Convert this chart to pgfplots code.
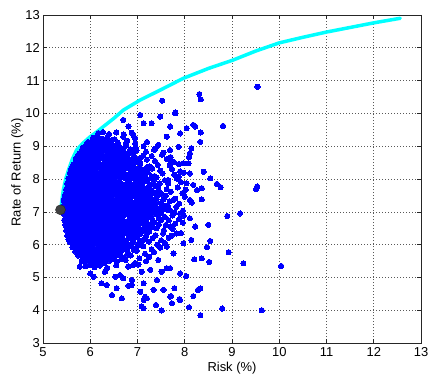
\documentclass[border=0pt]{standalone}
\usepackage{fontspec}
\setmainfont{Liberation Sans}
\usepackage{pgfplots}
\pgfplotsset{compat=1.18}
\definecolor{mblue}{rgb}{0,0,1}
\definecolor{mcyan}{rgb}{0,1,1}
\definecolor{mdark}{rgb}{0.25,0.25,0.25}
\begin{document}
\begin{tikzpicture}
\begin{axis}[
  name=ax,
  width=378bp, height=328bp, scale only axis,
  xmin=5, xmax=13, ymin=3, ymax=13,
  xtick={5,6,...,13}, ytick={3,4,...,13},
  grid=major,
  major grid style={dash pattern=on 1bp off 2bp, black!65, line width=0.6bp},
  axis line style={black!85, line width=0.7bp},
  tick style={black!85, line width=0.6bp},
  tick align=inside,
  major tick length=4bp,
  /pgf/number format/assume math mode=true,
  ticklabel style={font=\fontsize{13}{13}\selectfont},
  xticklabel style={anchor=north, inner sep=0pt, yshift=-4bp},
  yticklabel style={anchor=east, inner sep=0pt, xshift=-3bp},
  xlabel={Risk (\%)}, ylabel={Rate of Return (\%)},
  label style={font=\fontsize{13}{13}\selectfont, inner sep=0pt},
  xlabel style={at={(axis description cs:0.5,-0.058)}, anchor=north},
  ylabel style={at={(axis description cs:-0.068,0.52)}, anchor=center},
]
% random portfolios
\addplot[only marks, mark=*, mark size=2.6bp, color=mblue, mark options={draw=mblue, fill=mblue, line width=0pt}] coordinates {
(6.17,9.40) (6.27,9.43) (6.40,9.37) (6.55,9.42) (6.71,9.36) (6.88,9.41)
(6.06,9.26) (6.16,9.30) (6.25,9.23) (6.36,9.28) (6.52,9.21) (6.70,9.29) (6.95,9.25)
(5.96,9.13) (6.06,9.16) (6.15,9.09) (6.26,9.14) (6.36,9.07) (6.44,9.15) (6.58,9.11) (6.78,9.17) (6.95,9.08) (7.20,9.13)
(5.84,8.95) (5.94,9.00) (6.03,8.93) (6.14,9.01) (6.24,8.97) (6.32,9.03) (6.43,8.94) (6.53,8.99) (6.62,8.98) (6.76,9.02) (6.96,8.95) (7.13,9.00) (7.38,8.93)
(5.77,8.79) (5.87,8.87) (5.96,8.83) (6.07,8.89) (6.17,8.80) (6.25,8.85) (6.36,8.84) (6.46,8.88) (6.55,8.81) (6.65,8.86) (6.80,8.79) (6.98,8.87) (7.18,8.83) (7.35,8.89) (7.55,8.80)
(5.73,8.69) (5.83,8.75) (5.92,8.66) (6.03,8.71) (6.13,8.70) (6.21,8.74) (6.32,8.67) (6.42,8.72) (6.51,8.65) (6.61,8.73) (6.70,8.69) (6.79,8.75) (6.94,8.66) (7.12,8.71) (7.30,8.70) (7.52,8.74) (7.70,8.67)
(5.69,8.60) (5.79,8.53) (5.88,8.58) (5.99,8.51) (6.09,8.59) (6.17,8.55) (6.28,8.61) (6.38,8.52) (6.47,8.57) (6.57,8.56) (6.66,8.60) (6.77,8.53) (6.86,8.58) (7.00,8.51) (7.20,8.59) (7.37,8.55) (7.62,8.61) (7.77,8.52)
(5.64,8.44) (5.74,8.37) (5.83,8.45) (5.94,8.41) (6.04,8.47) (6.12,8.38) (6.23,8.43) (6.33,8.42) (6.42,8.46) (6.52,8.39) (6.61,8.44) (6.72,8.37) (6.82,8.45) (6.91,8.41) (7.06,8.47) (7.26,8.38) (7.43,8.43) (7.68,8.42) (7.88,8.46)
(5.60,8.31) (5.70,8.27) (5.79,8.33) (5.90,8.24) (6.00,8.29) (6.08,8.28) (6.19,8.32) (6.29,8.25) (6.38,8.30) (6.48,8.23) (6.57,8.31) (6.68,8.27) (6.78,8.33) (6.87,8.24) (6.97,8.29) (7.11,8.28) (7.31,8.32) (7.48,8.25) (7.73,8.30) (7.90,8.23)
(5.57,8.19) (5.67,8.10) (5.76,8.15) (5.87,8.14) (5.97,8.18) (6.05,8.11) (6.16,8.16) (6.26,8.09) (6.35,8.17) (6.45,8.13) (6.54,8.19) (6.65,8.10) (6.75,8.15) (6.84,8.14) (6.94,8.18) (7.02,8.11) (7.16,8.16) (7.36,8.09) (7.53,8.17) (7.78,8.13) (7.98,8.19)
(5.54,8.01) (5.64,8.00) (5.73,8.04) (5.84,7.97) (5.94,8.02) (6.02,7.95) (6.13,8.03) (6.23,7.99) (6.32,8.05) (6.42,7.96) (6.51,8.01) (6.62,8.00) (6.72,8.04) (6.81,7.97) (6.91,8.02) (6.99,7.95) (7.09,8.03) (7.22,7.99) (7.40,8.05) (7.58,7.96) (7.83,8.01)
(5.51,7.86) (5.61,7.90) (5.70,7.83) (5.81,7.88) (5.91,7.81) (5.99,7.89) (6.10,7.85) (6.20,7.91) (6.29,7.82) (6.39,7.87) (6.48,7.86) (6.59,7.90) (6.69,7.83) (6.78,7.88) (6.88,7.81) (6.96,7.89) (7.06,7.85) (7.12,7.91) (7.28,7.82) (7.47,7.87) (7.65,7.86) (7.92,7.90)
(5.49,7.69) (5.59,7.74) (5.68,7.67) (5.79,7.75) (5.89,7.71) (5.97,7.77) (6.08,7.68) (6.18,7.73) (6.27,7.72) (6.37,7.76) (6.46,7.69) (6.57,7.74) (6.67,7.67) (6.76,7.75) (6.86,7.71) (6.94,7.77) (7.04,7.68) (7.13,7.73) (7.26,7.72) (7.44,7.76) (7.62,7.69) (7.85,7.74) (8.02,7.67)
(5.47,7.53) (5.57,7.61) (5.66,7.57) (5.77,7.63) (5.87,7.54) (5.95,7.59) (6.06,7.58) (6.16,7.62) (6.25,7.55) (6.35,7.60) (6.44,7.53) (6.55,7.61) (6.65,7.57) (6.74,7.63) (6.84,7.54) (6.92,7.59) (7.02,7.58) (7.11,7.62) (7.20,7.55) (7.34,7.60) (7.52,7.53) (7.70,7.61) (7.95,7.57)
(5.46,7.43) (5.56,7.49) (5.65,7.40) (5.76,7.45) (5.86,7.44) (5.94,7.48) (6.05,7.41) (6.15,7.46) (6.24,7.39) (6.34,7.47) (6.43,7.43) (6.54,7.49) (6.64,7.40) (6.73,7.45) (6.83,7.44) (6.91,7.48) (7.01,7.41) (7.10,7.46) (7.19,7.39) (7.27,7.47) (7.40,7.43) (7.60,7.49) (7.80,7.40)
(5.44,7.34) (5.54,7.27) (5.63,7.32) (5.74,7.25) (5.84,7.33) (5.92,7.29) (6.03,7.35) (6.13,7.26) (6.22,7.31) (6.32,7.30) (6.41,7.34) (6.52,7.27) (6.62,7.32) (6.71,7.25) (6.81,7.33) (6.89,7.29) (6.99,7.35) (7.08,7.26) (7.17,7.31) (7.27,7.30) (7.34,7.34) (7.50,7.27) (7.68,7.32) (7.88,7.25)
(5.43,7.18) (5.53,7.11) (5.62,7.19) (5.73,7.15) (5.83,7.21) (5.91,7.12) (6.02,7.17) (6.12,7.16) (6.21,7.20) (6.31,7.13) (6.40,7.18) (6.51,7.11) (6.61,7.19) (6.70,7.15) (6.80,7.21) (6.88,7.12) (6.98,7.17) (7.07,7.16) (7.16,7.20) (7.26,7.13) (7.33,7.18) (7.46,7.11) (7.64,7.19) (7.82,7.15)
(5.42,7.05) (5.52,7.01) (5.61,7.07) (5.72,6.98) (5.82,7.03) (5.90,7.02) (6.01,7.06) (6.11,6.99) (6.20,7.04) (6.30,6.97) (6.39,7.05) (6.50,7.01) (6.60,7.07) (6.69,6.98) (6.79,7.03) (6.87,7.02) (6.97,7.06) (7.06,6.99) (7.15,7.04) (7.25,6.97) (7.32,7.05) (7.44,7.01) (7.62,7.07) (7.78,6.98) (7.96,7.03)
(5.44,6.93) (5.54,6.84) (5.63,6.89) (5.74,6.88) (5.84,6.92) (5.92,6.85) (6.03,6.90) (6.13,6.83) (6.22,6.91) (6.32,6.87) (6.41,6.93) (6.52,6.84) (6.62,6.89) (6.71,6.88) (6.81,6.92) (6.89,6.85) (6.99,6.90) (7.08,6.83) (7.17,6.91) (7.26,6.87) (7.40,6.93) (7.58,6.84) (7.74,6.89) (7.98,6.88)
(5.45,6.75) (5.55,6.74) (5.64,6.78) (5.75,6.71) (5.85,6.76) (5.93,6.69) (6.04,6.77) (6.14,6.73) (6.23,6.79) (6.33,6.70) (6.42,6.75) (6.53,6.74) (6.63,6.78) (6.72,6.71) (6.82,6.76) (6.90,6.69) (7.00,6.77) (7.09,6.73) (7.18,6.79) (7.32,6.70) (7.50,6.75) (7.66,6.74) (7.88,6.78)
(5.47,6.60) (5.57,6.64) (5.66,6.57) (5.77,6.62) (5.87,6.55) (5.95,6.63) (6.06,6.59) (6.16,6.65) (6.25,6.56) (6.35,6.61) (6.44,6.60) (6.55,6.64) (6.65,6.57) (6.74,6.62) (6.84,6.55) (6.92,6.63) (7.02,6.59) (7.11,6.65) (7.26,6.56) (7.45,6.61) (7.60,6.60) (7.80,6.64)
(5.49,6.43) (5.59,6.48) (5.68,6.41) (5.79,6.49) (5.89,6.45) (5.97,6.51) (6.08,6.42) (6.18,6.47) (6.27,6.46) (6.37,6.50) (6.46,6.43) (6.57,6.48) (6.67,6.41) (6.76,6.49) (6.86,6.45) (6.94,6.51) (7.04,6.42) (7.10,6.47) (7.24,6.46) (7.40,6.50) (7.56,6.43) (7.74,6.48)
(5.51,6.27) (5.61,6.35) (5.70,6.31) (5.81,6.37) (5.91,6.28) (5.99,6.33) (6.10,6.32) (6.20,6.36) (6.29,6.29) (6.39,6.34) (6.48,6.27) (6.59,6.35) (6.69,6.31) (6.78,6.37) (6.88,6.28) (6.96,6.33) (7.05,6.32) (7.19,6.36) (7.38,6.29) (7.54,6.34) (7.72,6.27) (7.92,6.35)
(5.54,6.17) (5.64,6.23) (5.73,6.14) (5.84,6.19) (5.94,6.18) (6.02,6.22) (6.13,6.15) (6.23,6.20) (6.32,6.13) (6.42,6.21) (6.51,6.17) (6.62,6.23) (6.72,6.14) (6.81,6.19) (6.91,6.18) (6.99,6.22) (7.14,6.15) (7.32,6.20) (7.50,6.13) (7.66,6.21)
(5.57,6.08) (5.67,6.01) (5.76,6.06) (5.87,5.99) (5.97,6.07) (6.05,6.03) (6.16,6.09) (6.26,6.00) (6.35,6.05) (6.45,6.04) (6.54,6.08) (6.65,6.01) (6.75,6.06) (6.84,5.99) (6.92,6.07) (7.06,6.03) (7.24,6.09) (7.42,6.00) (7.58,6.05)
(5.62,5.92) (5.72,5.85) (5.81,5.93) (5.92,5.89) (6.02,5.95) (6.10,5.86) (6.21,5.91) (6.31,5.90) (6.40,5.94) (6.50,5.87) (6.59,5.92) (6.70,5.85) (6.80,5.93) (6.95,5.89) (7.12,5.95) (7.30,5.86) (7.48,5.91)
(5.68,5.79) (5.78,5.75) (5.87,5.81) (5.98,5.72) (6.08,5.77) (6.16,5.76) (6.27,5.80) (6.37,5.73) (6.46,5.78) (6.56,5.71) (6.65,5.79) (6.80,5.75) (6.98,5.81) (7.16,5.72) (7.35,5.77)
(5.74,5.67) (5.84,5.58) (5.93,5.63) (6.04,5.62) (6.14,5.66) (6.22,5.59) (6.33,5.64) (6.43,5.57) (6.52,5.65) (6.68,5.61) (6.86,5.67) (7.04,5.58) (7.25,5.63)
(5.82,5.49) (5.92,5.48) (6.01,5.52) (6.12,5.45) (6.22,5.50) (6.30,5.43) (6.41,5.51) (6.56,5.47) (6.75,5.53) (6.95,5.44) (7.18,5.49)
(5.90,5.34) (6.00,5.38) (6.09,5.31) (6.20,5.36) (6.36,5.29) (6.55,5.37) (6.80,5.33) (7.02,5.39)
(6.05,9.19) (6.15,9.21) (6.24,9.17) (6.34,9.20) (6.44,9.18)
(5.92,9.05) (6.02,9.07) (6.11,9.03) (6.21,9.06) (6.31,9.04) (6.40,9.08) (6.50,9.02) (6.59,9.07)
(5.83,8.91) (5.93,8.93) (6.02,8.89) (6.12,8.92) (6.22,8.90) (6.31,8.94) (6.41,8.88) (6.50,8.93) (6.60,8.90) (6.70,8.91)
(5.78,8.77) (5.88,8.79) (5.97,8.75) (6.07,8.78) (6.17,8.76) (6.26,8.80) (6.36,8.74) (6.45,8.79) (6.55,8.76) (6.65,8.77) (6.74,8.79)
(5.73,8.63) (5.83,8.65) (5.92,8.61) (6.02,8.64) (6.12,8.62) (6.21,8.66) (6.31,8.60) (6.40,8.65) (6.50,8.62) (6.60,8.63) (6.69,8.65) (6.79,8.61)
(5.69,8.49) (5.79,8.51) (5.88,8.47) (5.98,8.50) (6.08,8.48) (6.17,8.52) (6.27,8.46) (6.36,8.51) (6.46,8.48) (6.56,8.49) (6.65,8.51) (6.84,8.50)
(5.65,8.35) (5.75,8.37) (5.84,8.33) (5.94,8.36) (6.04,8.34) (6.13,8.38) (6.23,8.32) (6.32,8.37) (6.42,8.34) (6.52,8.35) (6.61,8.37) (6.71,8.33) (6.80,8.36) (6.90,8.34)
(5.62,8.21) (5.72,8.23) (5.81,8.19) (5.91,8.22) (6.01,8.20) (6.10,8.24) (6.20,8.18) (6.29,8.23) (6.39,8.20) (6.49,8.21) (6.58,8.23) (6.68,8.19) (6.87,8.20) (6.97,8.24)
(5.59,8.07) (5.69,8.09) (5.78,8.05) (5.88,8.08) (5.98,8.06) (6.07,8.10) (6.17,8.04) (6.26,8.09) (6.36,8.06) (6.46,8.07) (6.55,8.09) (6.65,8.05) (6.74,8.08) (6.84,8.06) (6.94,8.10)
(5.56,7.93) (5.66,7.95) (5.75,7.91) (5.85,7.94) (5.95,7.92) (6.04,7.96) (6.14,7.90) (6.23,7.95) (6.33,7.92) (6.43,7.93) (6.52,7.95) (6.62,7.91) (6.81,7.92) (7.00,7.90)
(5.54,7.79) (5.64,7.81) (5.73,7.77) (5.83,7.80) (5.93,7.78) (6.02,7.82) (6.12,7.76) (6.21,7.81) (6.31,7.78) (6.41,7.79) (6.50,7.81) (6.60,7.77) (6.69,7.80) (6.79,7.78) (6.89,7.82) (6.98,7.76) (7.08,7.81)
(5.52,7.65) (5.62,7.67) (5.71,7.63) (5.81,7.66) (5.91,7.64) (6.00,7.68) (6.10,7.62) (6.19,7.67) (6.29,7.64) (6.39,7.65) (6.48,7.67) (6.58,7.63) (6.67,7.66) (6.77,7.64) (6.96,7.62) (7.06,7.67) (7.15,7.64)
(5.51,7.51) (5.61,7.53) (5.70,7.49) (5.80,7.52) (5.90,7.50) (5.99,7.54) (6.09,7.48) (6.18,7.53) (6.28,7.50) (6.38,7.51) (6.47,7.53) (6.57,7.49) (6.66,7.52) (6.76,7.50) (6.86,7.54) (6.95,7.48) (7.05,7.53) (7.14,7.50)
(5.49,7.37) (5.59,7.39) (5.68,7.35) (5.78,7.38) (5.88,7.36) (5.97,7.40) (6.07,7.34) (6.16,7.39) (6.26,7.36) (6.36,7.37) (6.45,7.39) (6.55,7.35) (6.64,7.38) (6.74,7.36) (6.84,7.40) (7.03,7.39) (7.12,7.36) (7.22,7.37)
(5.48,7.23) (5.58,7.25) (5.67,7.21) (5.77,7.24) (5.87,7.22) (5.96,7.26) (6.06,7.20) (6.15,7.25) (6.25,7.22) (6.35,7.23) (6.44,7.25) (6.54,7.21) (6.63,7.24) (6.73,7.22) (6.83,7.26) (6.92,7.20) (7.02,7.25) (7.11,7.22) (7.21,7.23)
(5.47,7.09) (5.57,7.11) (5.66,7.07) (5.76,7.10) (5.86,7.08) (5.95,7.12) (6.05,7.06) (6.14,7.11) (6.24,7.08) (6.34,7.09) (6.43,7.11) (6.53,7.07) (6.62,7.10) (6.72,7.08) (6.91,7.06) (7.01,7.11) (7.20,7.09)
(5.48,6.95) (5.58,6.97) (5.67,6.93) (5.77,6.96) (5.87,6.94) (5.96,6.98) (6.06,6.92) (6.15,6.97) (6.25,6.94) (6.35,6.95) (6.44,6.97) (6.54,6.93) (6.63,6.96) (6.73,6.94) (6.83,6.98) (6.92,6.92) (7.02,6.97) (7.11,6.94) (7.21,6.95)
(5.49,6.81) (5.59,6.83) (5.68,6.79) (5.78,6.82) (5.88,6.80) (5.97,6.84) (6.07,6.78) (6.16,6.83) (6.26,6.80) (6.36,6.81) (6.45,6.83) (6.55,6.79) (6.64,6.82) (6.84,6.84) (6.93,6.78) (7.03,6.83) (7.12,6.80)
(5.51,6.67) (5.61,6.69) (5.70,6.65) (5.80,6.68) (5.90,6.66) (5.99,6.70) (6.09,6.64) (6.18,6.69) (6.28,6.66) (6.38,6.67) (6.47,6.69) (6.57,6.65) (6.66,6.68) (6.76,6.66) (6.86,6.70) (6.95,6.64) (7.05,6.69)
(5.53,6.53) (5.63,6.55) (5.72,6.51) (5.82,6.54) (5.92,6.52) (6.01,6.56) (6.11,6.50) (6.20,6.55) (6.30,6.52) (6.40,6.53) (6.49,6.55) (6.59,6.51) (6.68,6.54) (6.88,6.56) (6.97,6.50)
(5.55,6.39) (5.65,6.41) (5.74,6.37) (5.84,6.40) (5.94,6.38) (6.03,6.42) (6.13,6.36) (6.22,6.41) (6.32,6.38) (6.42,6.39) (6.51,6.41) (6.61,6.37) (6.70,6.40) (6.80,6.38) (6.90,6.42)
(5.58,6.25) (5.68,6.27) (5.77,6.23) (5.87,6.26) (5.97,6.24) (6.06,6.28) (6.16,6.22) (6.25,6.27) (6.35,6.24) (6.45,6.25) (6.54,6.27) (6.64,6.23) (6.83,6.28)
(5.61,6.11) (5.71,6.13) (5.80,6.09) (5.90,6.12) (6.00,6.10) (6.09,6.14) (6.19,6.08) (6.28,6.13) (6.38,6.10) (6.48,6.11) (6.57,6.13) (6.67,6.09) (6.76,6.12)
(5.65,5.97) (5.75,5.99) (5.84,5.95) (5.94,5.98) (6.04,5.96) (6.13,6.00) (6.23,5.94) (6.32,5.99) (6.42,5.96) (6.52,5.97) (6.61,5.99) (6.71,5.95)
(5.70,5.83) (5.80,5.85) (5.89,5.81) (5.99,5.84) (6.09,5.82) (6.18,5.86) (6.28,5.80) (6.37,5.85) (6.47,5.82) (6.57,5.83)
(5.76,5.69) (5.86,5.71) (5.95,5.67) (6.05,5.70) (6.15,5.68) (6.24,5.72) (6.34,5.66) (6.43,5.71)
(5.83,5.55) (5.93,5.57) (6.02,5.53) (6.12,5.56) (6.22,5.54) (6.31,5.58)
(7.06,8.22) (7.22,8.20) (7.05,8.36) (7.20,8.35) (7.15,8.06) (7.30,8.08) (7.18,7.93) (7.34,7.95) (7.25,7.80) (7.38,7.79) (7.30,7.66) (7.45,7.64) (7.28,7.52) (7.43,7.50) (7.40,7.37) (7.55,7.38) (7.38,7.23) (7.52,7.22) (7.38,7.09) (7.53,7.10) (7.35,6.95) (7.50,6.96) (7.30,6.81) (7.45,6.80) (7.20,6.67) (7.36,6.68) (7.15,6.53) (7.32,6.54) (7.05,6.39) (7.25,6.40) (7.00,6.25) (7.18,6.26) (6.90,6.11) (7.05,6.12) (6.85,5.97) (7.02,5.99) (6.78,5.83) (6.92,5.84) (6.62,5.69) (6.78,5.70) (6.50,5.55) (6.66,5.56) (6.92,8.49) (7.05,8.63) (6.90,8.77) (6.85,8.91) (6.75,9.05)
(6.70,9.80) (6.81,9.60) (6.91,9.34) (7.06,9.95) (7.13,9.70) (7.30,9.70) (7.48,9.90) (7.80,10.00) (7.69,9.60) (7.90,9.39) (8.04,9.55) (7.62,9.29) (8.18,9.65) (7.87,8.98) (7.69,8.88) (7.44,9.04) (8.11,8.78) (7.97,8.48) (7.69,8.58) (8.11,8.17) (8.04,7.87) (7.87,8.07) (7.65,7.97) (8.26,7.66) (8.11,7.36) (7.97,7.56) (7.76,7.36) (7.69,7.05) (7.51,7.05) (7.90,6.95)
(9.54,10.81) (8.31,10.59) (8.34,10.43) (8.81,9.62) (7.52,10.39) (7.80,10.03) (8.22,9.60) (8.34,9.42) (8.33,9.13) (8.09,8.66) (8.08,8.48) (8.40,8.22) (8.54,8.02) (8.68,7.85) (8.76,7.75) (9.53,7.77) (9.51,7.69) (8.14,8.94) (8.18,7.82) (8.36,7.72) (8.00,7.46)
(9.17,6.95) (8.90,6.87) (8.50,6.60) (8.22,6.55) (8.14,6.14) (8.54,6.11) (8.47,5.92) (8.93,5.77) (8.20,5.55) (8.36,5.58) (8.52,5.47) (9.24,5.43) (10.04,5.35) (8.33,4.66) (8.28,4.62) (8.18,4.43) (7.89,4.34) (7.71,4.43) (8.09,4.09) (8.79,4.05) (9.63,4.00) (8.33,3.85) (7.51,3.99) (7.39,4.16) (7.73,4.21) (7.96,6.67) (8.11,6.80) (8.36,7.38) (8.15,7.28) (7.97,6.04) (7.90,5.12) (7.78,4.67) (8.03,5.04) (7.62,5.28)
(7.69,6.55) (7.83,6.34) (7.62,5.94) (7.76,5.73) (7.44,5.53) (7.69,5.28) (7.51,5.17) (7.27,5.23) (7.09,5.17) (6.91,5.38) (6.70,4.97) (6.88,4.77) (7.13,4.82) (7.41,4.92) (7.55,4.62) (6.46,4.46) (6.67,4.36) (7.13,4.31) (7.16,4.41) (7.69,4.41) (7.90,4.31) (6.31,5.17) (6.24,4.82) (6.07,5.02) (6.53,5.02) (7.09,4.11)
(6.00,5.12) (5.78,5.33) (6.56,4.67) (6.81,4.74) (7.06,4.56) (7.13,4.06) (7.20,4.36) (7.34,4.62) (6.35,4.77) (6.88,4.92) (6.63,5.07)
};
% minimum variance portfolio marker
\addplot[only marks, mark=*, mark size=5bp, mark options={draw=black!85, fill=mdark}] coordinates {(5.37,7.06)};
% efficient frontier
\addplot[color=mcyan, line width=3.5bp, line join=round, line cap=round] coordinates {
(5.375,7.05) (5.40,7.35) (5.43,7.66) (5.48,8.00) (5.54,8.27) (5.62,8.60) (5.71,8.88) (5.85,9.10) (6.00,9.29) (6.15,9.45) (6.28,9.60) (6.50,9.85) (6.70,10.10) (7.06,10.41) (7.48,10.71) (7.97,11.07) (8.50,11.37) (9.03,11.63) (9.50,11.90) (10.00,12.15) (10.50,12.32) (11.00,12.48) (11.50,12.62) (12.00,12.76) (12.56,12.90)
};
\end{axis}
\pgfresetboundingbox
\path ([shift={(-43bp,-37bp)}]ax.south west) rectangle ([shift={(11bp,15bp)}]ax.north east);
\end{tikzpicture}
\end{document}
